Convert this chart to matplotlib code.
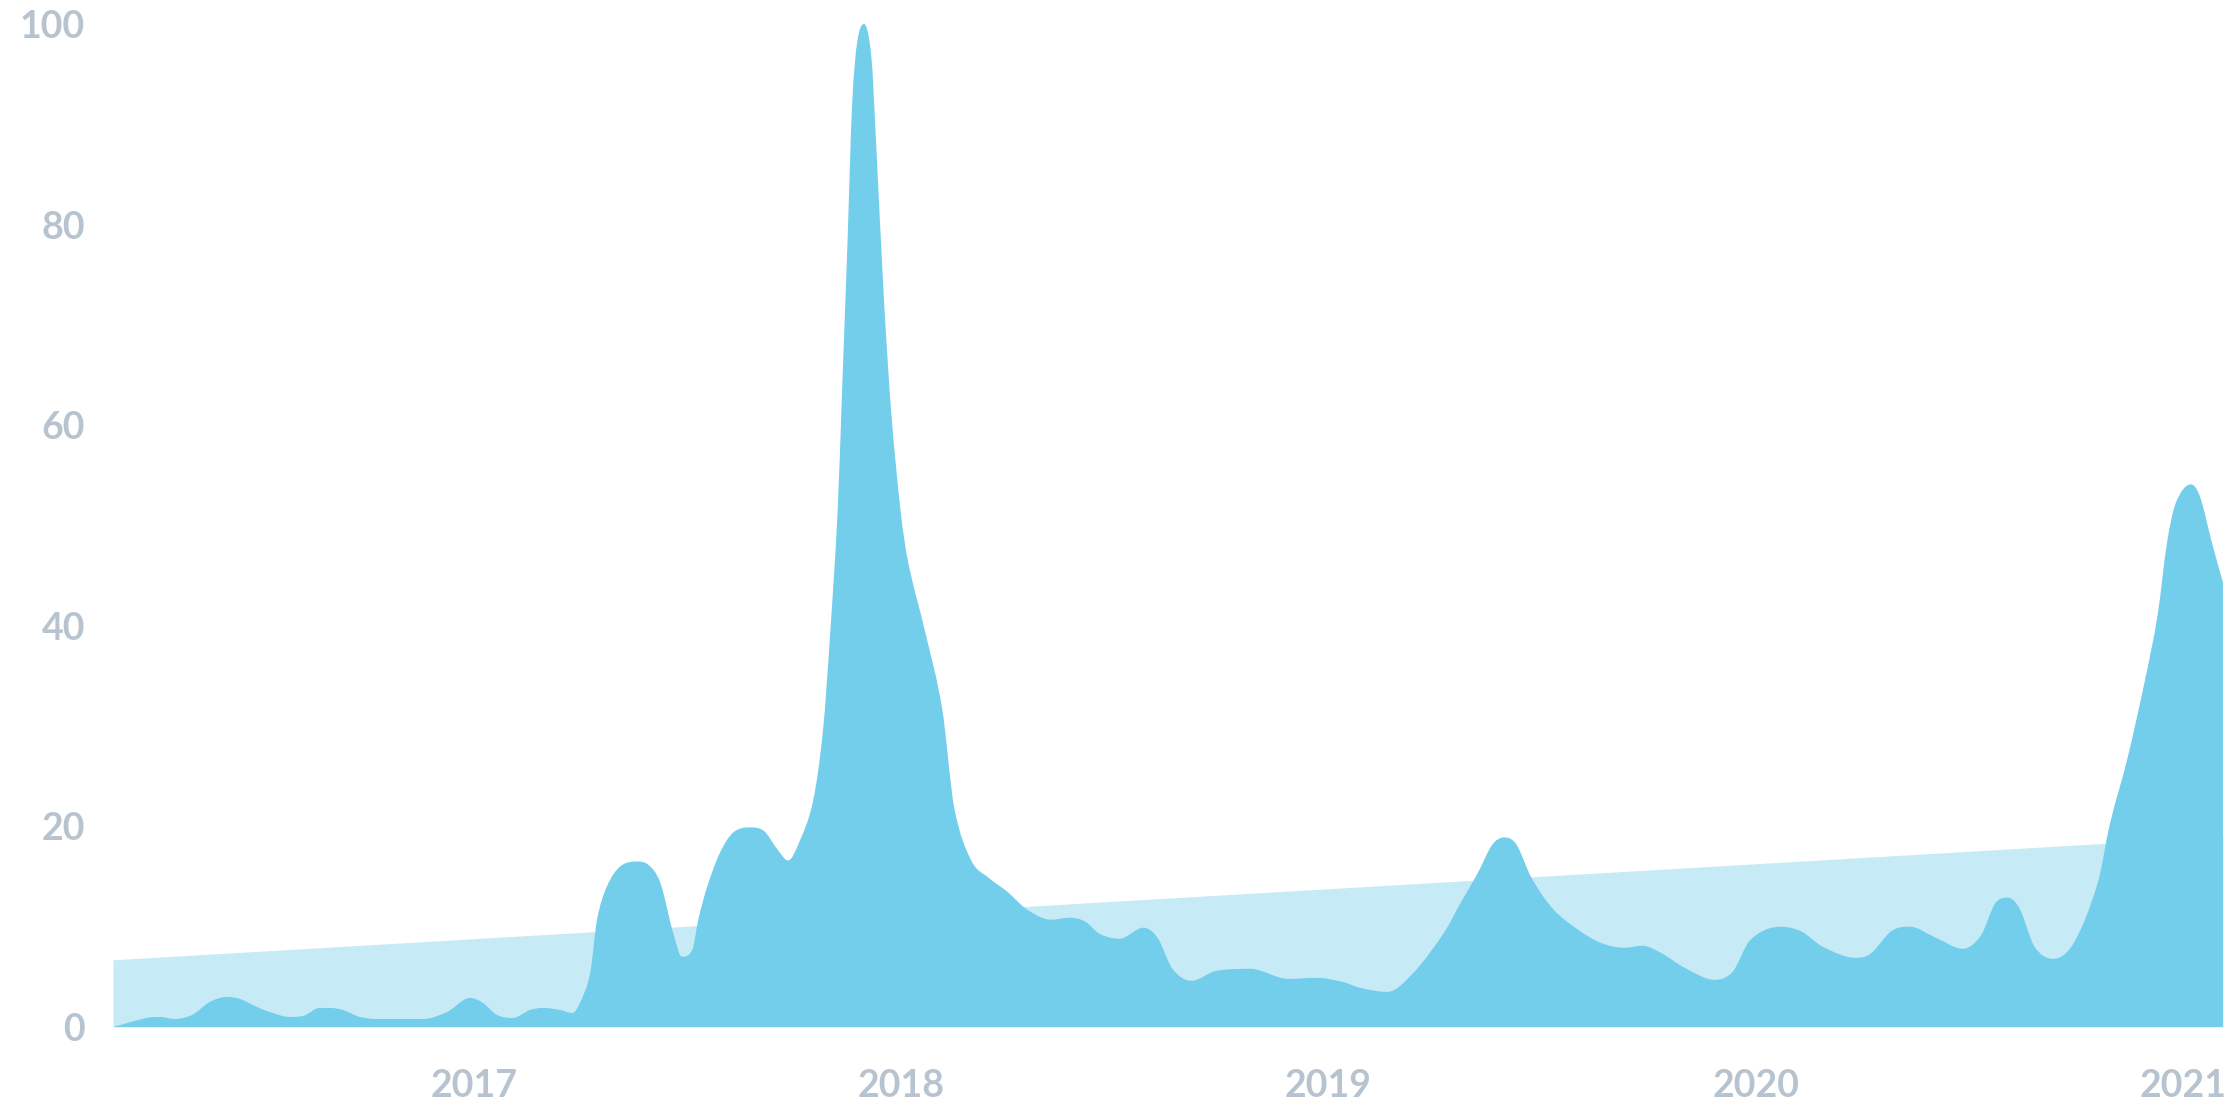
import numpy as np
import matplotlib
matplotlib.use("Agg")
import matplotlib.pyplot as plt
from matplotlib.path import Path
from matplotlib.patches import PathPatch

# ---- data (decimal years, interest 0-100) ----
years = [
    2016.155, 2016.234, 2016.265, 2016.300, 2016.340, 2016.382, 2016.422, 2016.452,
    2016.492, 2016.515, 2016.569, 2016.600, 2016.639, 2016.663, 2016.693, 2016.733,
    2016.773, 2016.827, 2016.881, 2016.937, 2016.991, 2017.021, 2017.054,
    2017.091, 2017.131, 2017.162, 2017.201, 2017.230, 2017.248, 2017.272,
    2017.288, 2017.311, 2017.342, 2017.382, 2017.407, 2017.436, 2017.466, 2017.487,
    2017.511, 2017.525, 2017.546, 2017.576, 2017.607, 2017.646, 2017.677, 2017.712,
    2017.735, 2017.763,
    2017.794, 2017.817, 2017.834, 2017.851, 2017.862, 2017.874, 2017.885, 2017.897,
    2017.913, 2017.930, 2017.941, 2017.959, 2017.977, 2017.999, 2018.016, 2018.056,
    2018.096, 2018.124, 2018.164, 2018.204, 2018.248, 2018.295, 2018.351, 2018.396,
    2018.431, 2018.464, 2018.511, 2018.567, 2018.600, 2018.635, 2018.679, 2018.738,
    2018.817, 2018.906, 2018.974, 2019.033, 2019.075, 2019.138, 2019.201, 2019.272,
    2019.307, 2019.349, 2019.384, 2019.412, 2019.440, 2019.475, 2019.525, 2019.581,
    2019.637, 2019.693, 2019.735, 2019.778, 2019.834, 2019.904, 2019.946, 2019.988,
    2020.059, 2020.108, 2020.157, 2020.234, 2020.269, 2020.319, 2020.361, 2020.422,
    2020.485, 2020.527, 2020.562, 2020.590, 2020.618, 2020.653, 2020.696, 2020.745,
    2020.801, 2020.829, 2020.871, 2020.913, 2020.941, 2020.963, 2020.984, 2021.019,
    2021.040, 2021.068, 2021.094,
]
interest = [
    0.0, 0.9, 1.0, 0.8, 1.2, 2.5, 3.0, 2.8,
    2.0, 1.6, 1.0, 1.1, 1.9, 1.9, 1.7, 1.0,
    0.8, 0.8, 0.8, 1.5, 2.9, 2.4, 1.2,
    0.9, 1.7, 1.9, 1.7, 1.4, 2.4, 5.4,
    10.7, 14.0, 16.0, 16.5, 16.2, 14.4, 9.4, 7.0,
    7.7, 10.7, 14.0, 17.4, 19.4, 19.9, 19.6, 17.6,
    16.6, 18.6,
    22.6, 29.6, 39.4, 51.3, 63.9, 77.9, 91.9, 98.2,
    100.0, 96.8, 88.4, 73.0, 61.1, 51.3, 46.4, 39.4,
    31.7, 21.9, 16.6, 14.9, 13.5, 11.7, 10.7, 10.9,
    10.5, 9.3, 8.8, 9.9, 8.9, 5.8, 4.6, 5.6,
    5.8, 4.8, 4.9, 4.5, 3.9, 3.5, 5.5, 9.5,
    12.2, 15.3, 18.2, 18.9, 18.2, 14.9, 11.8, 9.8,
    8.4, 7.9, 8.1, 7.4, 5.9, 4.7, 5.5, 8.7,
    10.0, 9.5, 8.0, 6.9, 7.3, 9.6, 10.0, 8.9,
    7.8, 9.1, 12.4, 12.9, 11.8, 8.0, 6.8, 8.4,
    14.4, 20.2, 26.9, 34.9, 41.1, 48.3, 52.3, 54.1,
    52.9, 48.3, 44.3,
]
trend_years = [2016.155, 2021.094]
trend_values = [6.7, 19.0]

x_ticks = [2017, 2018, 2019, 2020, 2021]
x_labels = ["2017", "2018", "2019", "2020", "2021"]
y_ticks = [0, 20, 40, 60, 80, 100]
y_labels = ["0", "20", "40", "60", "80", "100"]

DARK = "#72CEEB"
LIGHT = "#C6EBF6"
TEXT = "#B7C4CF"


def smooth_area_path(x, y):
    """Area path using a monotone (Fritsch-Carlson) cubic Bezier curve."""
    x = np.asarray(x, float)
    y = np.asarray(y, float)
    h = np.diff(x)
    d = np.diff(y) / h
    m = np.zeros_like(x)
    m[0] = d[0]
    m[-1] = d[-1]
    for i in range(1, len(x) - 1):
        if d[i - 1] * d[i] <= 0:
            m[i] = 0.0
        else:
            m[i] = (y[i + 1] - y[i - 1]) / (x[i + 1] - x[i - 1])
    for i in range(len(x) - 1):
        if d[i] == 0:
            m[i] = m[i + 1] = 0.0
            continue
        a = m[i] / d[i]
        b = m[i + 1] / d[i]
        s = a * a + b * b
        if s > 9:
            t = 3 / np.sqrt(s)
            m[i] = t * a * d[i]
            m[i + 1] = t * b * d[i]
    verts = [(x[0], 0.0), (x[0], y[0])]
    codes = [Path.MOVETO, Path.LINETO]
    for i in range(len(x) - 1):
        verts += [(x[i] + h[i] / 3, y[i] + m[i] * h[i] / 3),
                  (x[i + 1] - h[i] / 3, y[i + 1] - m[i + 1] * h[i] / 3),
                  (x[i + 1], y[i + 1])]
        codes += [Path.CURVE4] * 3
    verts += [(x[-1], 0.0), (x[0], 0.0)]
    codes += [Path.LINETO, Path.CLOSEPOLY]
    return Path(verts, codes)


plt.rcParams["font.family"] = ["Lato", "DejaVu Sans"]

fig = plt.figure(figsize=(22.4, 11.2), dpi=100)
ax = fig.add_axes([113 / 2240, 93 / 1120, (2223 - 113) / 2240, 1003 / 1120])

ax.fill_between(trend_years, 0, trend_values, color=LIGHT, linewidth=0, zorder=1)
ax.add_patch(PathPatch(smooth_area_path(years, interest), facecolor=DARK,
                       edgecolor="none", zorder=2))

ax.set_xlim(years[0], years[-1])
ax.set_ylim(0, 100)
for s in ax.spines.values():
    s.set_visible(False)
ax.set_xticks(x_ticks)
ax.set_xticklabels(x_labels)
ax.set_yticks(y_ticks)
ax.set_yticklabels(y_labels)
ax.tick_params(axis="both", length=0, colors=TEXT, labelsize=27)
ax.tick_params(axis="x", pad=30)
ax.tick_params(axis="y", pad=20)
for lab in ax.get_xticklabels() + ax.get_yticklabels():
    lab.set_fontweight("bold")
    lab.set_color(TEXT)

fig.savefig("out.png", dpi=100, facecolor="white")
